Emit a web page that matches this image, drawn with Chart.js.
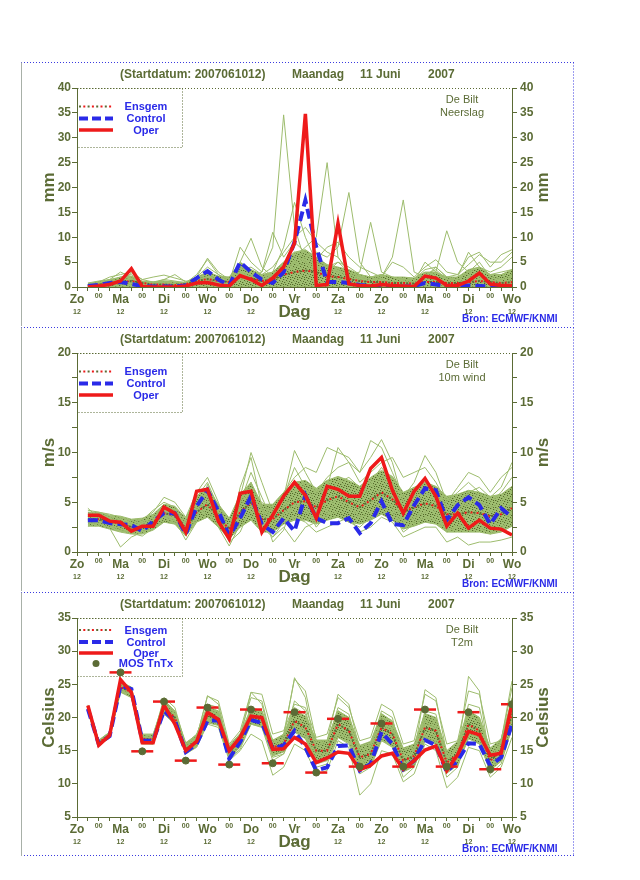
<!DOCTYPE html>
<html>
<head>
<meta charset="utf-8">
<script src="https://cdn.jsdelivr.net/npm/chart.js@4.4.1/dist/chart.umd.min.js"></script>
<style>
  body { margin: 0; background: #fff; width: 640px; height: 880px; position: relative; }
  canvas { position: absolute; left: 0; }
</style>
</head>
<body>
<canvas id="neerslag" width="640" height="265" style="top:61px"></canvas>
<canvas id="wind" width="640" height="265" style="top:326px"></canvas>
<canvas id="temp" width="640" height="265" style="top:591px"></canvas>
<script>
// forecast steps (hours after 2007061012)
const hours = [6,12,18,24,30,36,42,48,54,60,66,72,78,84,90,96,102,108,114,120,
               126,132,138,144,150,156,162,168,174,180,186,192,198,204,210,216,222,228,234,240];
const dayNames = ['Zo','Ma','Di','Wo','Do','Vr','Za','Zo','Ma','Di','Wo'];

// neerslag (mm)
const rrOper = [0.0,0.2,0.5,1.2,3.7,0.1,0.0,0.0,0.0,0.2,0.8,0.9,0.4,0.2,2.3,1.5,0.3,1.8,4.0,8.8,
                34.8,0.3,0.5,12.8,0.6,0.3,0.2,0.5,0.3,0.2,0.1,2.2,1.8,0.3,0.3,1.2,2.8,0.6,0.3,0.3];
const rrControl = [0.2,0.4,0.8,1.0,0.6,0.2,0.1,0.1,0.1,0.3,1.8,3.2,1.5,0.3,5.0,3.0,1.5,0.8,3.0,9.0,
                   17.4,8.0,1.0,1.0,0.8,0.4,0.2,0.1,0.1,0.1,0.2,0.8,0.5,0.2,0.2,0.3,0.2,0.1,0.1,0.1];
const rrEnsgem = [0.3,0.5,0.8,1.0,1.2,0.8,0.5,0.5,0.4,0.6,1.2,1.6,1.2,1.0,2.0,1.8,1.2,1.5,2.5,3.0,
                  3.3,3.0,2.2,2.0,1.6,1.2,1.0,1.0,0.8,0.8,0.7,1.0,1.0,0.8,0.8,1.0,1.2,1.0,0.8,1.0];
const rrLow = [0,0,0,0,0,0,0,0,0,0,0,0,0,0,0,0,0,0,0,0,
               0,0,0,0,0,0,0,0,0,0,0,0,0,0,0,0,0,0,0,0];
const rrHigh = [0.8,1.2,1.5,2.0,2.2,1.2,1.0,1.2,1.0,1.0,2.0,3.0,2.2,2.0,5.0,3.5,2.5,3.0,5.0,7.0,
                7.5,6.0,4.5,4.0,3.5,2.5,2.0,2.5,2.0,2.0,1.8,3.0,3.0,2.0,2.0,3.5,4.0,2.5,2.5,3.5];
const rrMembers = [
  [0.2,0.4,0.8,1.0,0.8,0.3,0.2,0.3,0.2,0.3,0.8,1.5,1.0,0.5,1.5,2.0,3.0,8.0,34.6,12.0,
   5.0,3.0,2.0,1.5,1.0,0.5,0.5,0.3,0.5,0.3,0.2,0.5,0.5,0.3,0.5,1.0,1.5,0.8,0.5,0.5],
  [0.3,0.5,1.2,2.0,2.5,1.0,0.8,1.0,0.5,0.5,1.2,2.0,1.0,0.8,3.0,2.0,1.5,2.5,4.0,6.0,
   8.0,10.0,25.0,6.0,3.0,2.0,1.5,1.0,1.0,0.5,0.5,1.0,1.5,0.5,0.5,1.0,1.5,1.0,1.0,1.5],
  [0.2,0.3,0.5,0.8,1.0,0.5,0.5,0.8,0.5,0.3,1.0,1.5,0.8,0.5,2.0,2.5,1.5,2.0,3.0,5.0,
   6.0,7.0,6.0,8.0,19.0,5.0,2.0,1.5,1.0,1.0,0.8,2.0,3.0,11.3,5.0,3.0,2.0,1.5,1.0,1.5],
  [0.5,1.0,2.0,2.5,3.0,1.5,1.0,1.5,1.2,0.8,2.0,4.0,2.5,1.5,4.0,3.0,2.0,3.0,5.0,7.0,
   5.0,4.0,3.0,5.0,3.0,2.0,1.5,2.0,6.0,17.5,3.0,2.0,4.0,2.0,1.5,3.0,5.0,2.0,1.5,2.0],
  [0.3,0.5,1.0,1.5,1.5,1.0,1.0,1.2,1.0,0.8,2.5,5.5,2.5,1.0,8.0,5.0,3.0,11.0,6.0,9.0,
   7.0,4.0,3.0,3.5,2.5,3.0,13.0,3.0,2.0,1.5,1.0,2.5,3.5,1.5,1.5,3.0,4.0,2.5,3.0,3.5],
  [0.2,0.3,0.8,1.5,2.0,0.8,0.6,0.8,0.6,0.5,1.5,2.5,1.5,0.8,3.0,2.5,1.8,3.0,8.0,17.0,
   10.0,5.0,4.0,5.0,4.0,2.5,2.0,2.5,2.0,1.5,1.5,3.5,4.0,2.0,2.5,6.0,7.0,4.0,6.5,7.5],
  [0.1,0.2,0.4,0.6,0.5,0.2,0.2,0.3,0.2,0.2,0.5,1.0,0.8,0.5,5.0,9.8,4.0,2.0,3.0,4.0,
   5.0,6.0,4.0,3.0,2.5,1.5,1.0,1.0,0.8,0.5,0.5,1.5,2.0,1.0,1.0,2.0,3.0,1.5,1.0,1.0],
  [0.4,0.8,1.5,3.0,2.0,1.0,0.8,1.5,2.5,1.0,2.0,5.8,3.0,1.5,3.5,4.0,2.5,4.0,7.0,10.0,
   12.0,9.0,7.0,6.0,3.0,2.0,1.5,1.5,1.0,1.0,1.0,5.0,3.0,1.5,2.0,7.0,4.0,3.0,4.0,6.0],
  [0.5,0.8,1.0,1.2,2.8,1.5,2.0,2.4,1.8,1.2,1.0,2.0,1.5,2.0,3.0,2.0,2.0,2.5,3.5,5.0,
   4.0,5.5,8.0,9.0,6.0,4.0,3.0,2.0,5.0,4.0,2.0,4.0,5.5,3.0,2.5,4.5,6.5,5.0,5.0,7.0]
];

// 10m wind (m/s)
const windOper = [3.7,3.7,3.1,3.0,2.1,2.6,2.6,4.5,3.9,2.0,6.1,6.3,3.1,1.3,5.9,6.1,2.0,3.7,5.6,7.0,
                  5.7,3.4,6.6,6.3,5.6,5.6,8.4,9.5,6.2,3.9,6.1,7.4,5.6,2.6,3.9,2.4,3.2,2.4,2.3,1.7];
const windControl = [3.2,3.2,2.9,2.8,2.7,2.1,3.1,3.9,3.9,1.8,4.6,6.2,4.1,1.6,3.4,5.6,2.8,2.0,3.4,2.1,
                     5.7,3.4,2.9,2.9,3.4,1.9,2.9,5.1,2.8,2.7,4.7,6.4,6.2,3.2,4.7,5.5,4.7,2.8,4.4,3.5];
const windEnsgem = [3.3,3.3,3.0,2.9,2.5,2.5,3.0,3.9,3.7,2.3,4.0,4.8,3.5,2.3,4.0,5.0,3.3,3.3,4.2,5.0,
                    5.1,4.5,5.2,5.6,5.0,4.5,5.2,6.0,5.3,4.0,4.5,4.9,4.6,3.8,3.8,4.0,3.9,3.6,3.8,4.4];
const windLow = [2.6,2.6,2.3,2.0,1.8,1.8,2.2,3.0,2.8,1.6,3.0,3.5,2.5,1.3,2.5,3.2,2.0,2.0,2.8,3.2,
                 3.2,2.8,3.2,3.5,3.0,2.8,3.2,3.8,3.2,2.3,2.6,3.0,2.8,2.0,2.0,2.0,2.0,1.8,2.0,2.6];
const windHigh = [4.0,4.0,3.7,3.6,3.3,3.4,3.8,4.8,4.6,3.4,5.6,6.5,4.8,3.4,5.8,7.0,4.8,4.8,6.0,7.0,
                  7.2,6.4,7.2,7.6,7.2,6.6,7.5,8.2,7.6,6.0,6.5,7.0,6.6,5.6,5.8,6.2,6.0,5.6,5.8,6.6];
const windMembers = [
  [3.5,3.6,3.2,3.0,2.6,2.8,3.5,4.5,4.2,2.8,5.0,6.0,4.0,2.5,5.5,10.0,7.0,4.0,5.5,10.2,
   8.0,6.0,7.5,8.5,9.0,8.0,9.5,11.3,9.0,5.0,6.0,7.0,6.5,4.5,5.0,6.0,6.5,5.5,6.5,9.0],
  [3.0,2.8,2.4,0.5,1.5,2.0,2.6,3.6,3.2,1.2,3.0,4.2,2.5,0.6,2.8,4.0,2.5,1.5,3.0,3.5,
   3.0,2.0,2.5,3.0,3.5,2.0,2.5,3.5,3.0,1.5,2.0,2.5,2.5,1.0,1.5,0.7,1.0,1.0,1.2,1.5],
  [3.8,3.9,3.5,3.4,3.2,3.3,4.0,5.5,5.0,3.5,6.0,7.5,5.0,2.0,4.5,6.0,5.0,4.0,6.0,7.5,
   8.5,8.0,10.5,10.0,9.5,8.0,11.2,10.5,8.0,5.5,7.0,9.7,8.0,5.0,6.0,7.0,6.0,5.0,6.0,7.5],
  [3.2,3.3,2.9,2.6,2.3,2.4,3.0,4.0,3.8,2.4,4.2,5.0,3.0,1.5,3.5,5.5,3.5,2.5,3.5,4.5,
   5.0,4.0,5.0,6.5,5.5,4.5,5.0,6.0,5.5,3.0,3.5,4.0,4.5,3.0,3.5,5.0,4.5,3.5,4.0,5.0],
  [4.2,4.0,3.8,3.5,3.0,3.2,4.2,5.0,4.5,3.0,5.5,7.0,4.5,1.8,5.0,8.0,5.5,3.0,4.5,6.0,
   7.0,6.0,6.5,10.5,9.0,7.0,8.0,9.0,9.5,7.5,8.0,8.5,7.0,5.0,6.5,8.0,7.5,6.0,7.5,8.5],
  [2.8,3.0,2.7,2.4,2.0,2.1,2.8,3.8,3.5,2.0,3.8,4.5,3.5,1.0,2.0,4.5,3.0,1.5,2.5,1.0,
   2.5,3.0,4.0,5.0,4.5,3.5,4.0,5.0,4.5,2.5,3.0,5.0,4.0,2.0,2.5,3.0,2.5,1.8,2.5,3.5],
  [3.6,3.5,3.3,3.2,2.8,3.0,3.4,4.3,4.1,2.6,4.6,5.8,3.8,2.2,4.8,7.0,4.2,3.5,5.5,8.5,
   6.5,5.0,6.0,7.0,7.5,6.5,7.0,8.5,7.0,4.0,5.0,6.5,6.0,3.5,4.0,5.5,5.0,4.5,5.0,6.0],
  [3.0,3.1,3.0,2.8,2.4,2.6,3.2,4.6,4.0,2.2,4.4,5.5,3.2,1.6,4.0,5.0,2.8,2.0,3.8,5.0,
   4.0,3.2,4.5,5.5,6.0,5.5,6.5,7.5,6.8,4.5,5.5,6.0,5.0,3.0,4.5,5.0,6.0,4.0,4.5,5.5],
  [4.4,3.4,2.6,2.2,1.9,1.6,2.4,3.2,3.0,1.8,3.4,6.8,4.2,1.2,6.5,9.5,4.5,1.0,2.2,5.5,
   4.5,2.5,3.8,4.0,3.0,2.5,3.5,4.5,4.0,2.0,2.8,3.5,3.2,2.2,2.5,4.0,3.5,2.5,3.0,4.0]
];

// T2m (Celsius)
const t2mOper = [21.8,15.8,17.3,25.7,23.8,16.2,16.2,21.9,19.0,15.0,16.4,20.8,19.7,15.0,17.0,20.2,20.0,15.2,15.3,17.0,
                 16.0,13.2,13.9,14.8,14.6,12.1,12.8,14.2,14.6,12.2,13.5,15.1,15.7,12.0,14.4,17.9,17.4,14.3,14.6,22.1];
const t2mControl = [21.3,16.0,17.2,24.8,24.3,16.5,16.5,21.0,19.5,14.8,16.0,19.5,19.6,13.8,16.3,19.6,19.2,15.3,15.8,18.0,
                    15.5,12.0,12.5,15.7,15.8,12.0,13.0,17.8,16.0,12.2,13.5,16.6,15.8,11.8,13.5,16.1,16.0,12.7,14.0,19.0];
const t2mEnsgem = [21.3,16.2,17.4,24.6,23.8,16.8,16.7,21.5,20.0,15.2,16.5,20.3,19.8,14.8,16.5,20.0,19.8,15.5,16.0,19.5,
                   18.5,15.0,15.0,19.0,18.0,14.0,14.5,18.5,17.5,13.5,14.2,18.5,18.0,13.2,14.5,19.0,18.0,13.5,15.0,20.5];
const t2mLow = [20.8,15.8,16.9,23.8,23.0,16.0,16.0,20.6,19.0,14.6,15.6,19.2,18.8,13.8,15.6,19.0,18.6,14.2,14.8,17.8,
                16.8,13.4,13.5,17.0,16.2,12.2,12.8,16.6,15.6,11.8,12.6,16.4,16.0,11.6,12.8,16.8,16.0,12.0,13.4,18.4];
const t2mHigh = [21.9,16.6,17.8,25.4,24.6,17.4,17.4,22.6,21.0,16.2,17.4,21.6,21.0,15.8,17.6,21.4,21.0,16.6,17.4,21.2,
                 20.2,16.6,16.6,21.0,20.0,15.8,16.4,20.6,19.4,15.4,16.0,20.6,20.0,15.0,16.4,21.0,20.0,15.4,16.8,22.8];
const t2mMembers = [
  [21.5,16.4,17.6,25.2,24.5,17.2,17.0,22.5,21.0,15.8,17.2,22.0,21.5,15.5,17.5,23.0,22.5,16.0,17.5,25.8,
   24.0,16.5,16.0,21.5,20.5,14.5,15.0,20.0,19.0,14.0,15.0,21.0,20.5,14.0,15.5,21.0,20.0,14.0,16.0,22.5],
  [21.0,15.8,17.0,24.0,23.0,16.2,16.0,20.5,19.0,14.5,15.5,19.0,18.5,13.5,15.0,17.5,16.5,11.3,12.5,16.0,
   15.0,11.5,12.0,16.5,15.5,8.3,10.0,15.0,14.5,10.3,11.5,16.0,15.0,9.4,11.0,15.5,15.0,11.0,12.5,17.0],
  [21.4,16.2,17.5,24.8,24.0,17.0,16.8,21.8,20.2,15.0,16.8,21.0,20.5,14.2,16.0,21.5,21.0,15.0,16.5,22.5,
   21.0,15.5,16.5,23.5,22.0,15.0,15.5,21.0,20.0,13.0,14.5,24.2,23.0,14.5,15.0,22.0,21.5,14.0,15.5,23.0],
  [21.2,16.0,17.2,24.5,23.5,16.5,16.5,21.2,19.8,14.8,16.2,20.0,19.5,14.5,16.5,19.5,19.5,14.5,15.0,19.0,
   18.0,13.5,14.0,20.5,19.5,13.0,14.0,19.5,18.5,12.5,14.0,20.0,19.5,12.0,14.5,26.2,24.0,13.0,15.0,21.5],
  [21.3,16.3,17.4,24.7,23.9,16.9,16.9,22.0,20.5,15.5,17.0,23.3,22.0,15.0,17.0,23.8,22.0,15.5,17.0,26.0,
   23.0,14.5,14.5,18.0,17.5,12.0,13.0,17.0,16.0,12.0,13.0,17.5,17.0,12.5,13.5,18.0,17.5,12.5,14.0,19.5],
  [21.1,16.1,17.3,24.3,23.6,16.6,16.6,21.0,19.5,15.0,16.0,19.5,19.0,14.0,15.5,19.5,19.0,14.0,14.5,18.0,
   17.0,13.0,13.5,17.5,17.0,13.5,14.0,19.0,18.0,13.5,14.5,19.5,19.0,13.5,15.5,20.5,19.5,14.5,16.5,25.5],
  [21.6,16.5,17.8,25.0,24.2,17.5,17.5,22.2,20.8,16.0,17.5,21.5,20.5,15.5,17.0,21.0,20.5,16.5,17.5,21.5,
   20.5,16.5,16.5,21.0,20.0,15.5,16.0,20.5,19.5,15.0,15.5,19.0,18.5,14.5,15.0,18.5,18.0,14.5,15.5,20.0],
  [21.0,15.9,17.1,24.2,23.3,16.4,16.3,21.0,19.2,14.6,15.8,19.8,19.2,13.8,15.2,19.0,18.5,13.5,14.5,18.5,
   17.5,12.5,13.0,17.0,16.0,11.5,12.5,16.5,15.5,11.0,12.5,17.0,16.5,11.0,12.5,17.5,17.0,11.5,13.0,18.5],
  [21.2,16.3,17.6,25.0,24.0,17.0,17.0,23.0,21.5,15.8,17.0,23.2,22.5,16.0,18.0,23.8,23.5,17.5,18.0,22.0,
   21.5,17.0,17.5,23.0,21.5,16.5,17.0,22.0,21.0,16.0,16.5,23.5,22.5,16.0,16.5,24.0,23.5,16.0,16.5,24.5]
];

// MOS Tn/Tx
const mosHours = [24,36,48,60,72,84,96,108,120,132,144,156,168,180,192,204,216,228,240];
const mosValues = [26.8,14.9,22.4,13.5,21.5,12.9,21.2,13.1,20.8,11.7,19.8,12.6,19.1,12.6,21.2,12.6,20.8,12.2,22.0];

const olive = '#5b6b35';
const blue = '#2a2ae8';
const red = '#ee1a1a';
const green = '#9dbc6d';
Chart.defaults.font.family = "'Liberation Sans', Arial, Helvetica, sans-serif";
Chart.defaults.color = olive;

function pts(arr) {
  return hours.map((t, i) => ({ x: t, y: arr[i] }));
}

// light green with scattered dark olive specks, like the dense member bundle
function speckle(ctx) {
  const c = document.createElement('canvas');
  c.width = 7; c.height = 7;
  const g = c.getContext('2d');
  g.fillStyle = '#a0bf72';
  g.fillRect(0, 0, 7, 7);
  g.fillStyle = '#8aab5c';
  [[1,0],[4,1],[0,3],[5,4],[2,5],[6,6]].forEach(p => g.fillRect(p[0], p[1], 1, 1));
  g.fillStyle = '#55682b';
  [[0,0],[3,1],[6,2],[2,3],[4,4],[1,5],[5,6],[3,6]].forEach(p => g.fillRect(p[0], p[1], 1, 1));
  return ctx.createPattern(c, 'repeat');
}

function yAxis(pos, min, max, width) {
  return {
    position: pos, min: min, max: max,
    ticks: { stepSize: 2.5, padding: pos === 'left' ? 1 : 3, color: olive,
             font: { size: 12, weight: 'bold' },
             callback: v => (v % 5 === 0 ? v : '') },
    grid: { drawOnChartArea: false, tickLength: 5, color: olive },
    border: { color: olive },
    afterFit: s => { s.width = width; }
  };
}

function extras(p) {
  return {
    id: 'extras',
    afterDraw(chart) {
      const g = chart.ctx, a = chart.chartArea, xs = chart.scales.x;
      g.save();
      // panel frame
      g.lineWidth = 1;
      g.strokeStyle = '#3a3ae0';
      g.setLineDash([1, 2]);
      g.beginPath();
      g.moveTo(21, 1.5); g.lineTo(574, 1.5);
      g.moveTo(573.5, 1.5); g.lineTo(573.5, 265);
      if (p.last) { g.moveTo(21, 264.5); g.lineTo(574, 264.5); }
      g.stroke();
      g.setLineDash([]);
      g.strokeStyle = '#a8b0a8';
      g.beginPath(); g.moveTo(21.5, 1.5); g.lineTo(21.5, 265); g.stroke();

      // dotted top of plot
      g.strokeStyle = olive;
      g.setLineDash([1, 2]);
      g.beginPath(); g.moveTo(a.left, a.top + 0.5); g.lineTo(a.right, a.top + 0.5); g.stroke();

      // legend box
      g.beginPath(); g.rect(a.left + 0.5, a.top + 0.5, 105, p.boxH); g.stroke();
      g.setLineDash([]);
      const rows = p.rows;
      for (let i = 0; i < 8; i++) {
        g.fillStyle = i % 2 ? red : olive;
        g.fillRect(79 + i * 4.3, rows[0] - 1, 2, 2);
      }
      g.lineWidth = 4; g.strokeStyle = blue; g.setLineDash([9, 4]);
      g.beginPath(); g.moveTo(79, rows[1]); g.lineTo(113, rows[1]); g.stroke();
      g.setLineDash([]);
      g.lineWidth = 3.5; g.strokeStyle = red;
      g.beginPath(); g.moveTo(79, rows[2]); g.lineTo(113, rows[2]); g.stroke();
      const names = ['Ensgem', 'Control', 'Oper'];
      if (p.mos) {
        g.fillStyle = olive;
        g.beginPath(); g.arc(96, rows[3], 3.5, 0, Math.PI * 2); g.fill();
        names.push('MOS TnTx');
      }
      g.fillStyle = blue;
      g.font = 'bold 11px "Liberation Sans", Arial, sans-serif';
      g.textAlign = 'center'; g.textBaseline = 'middle';
      names.forEach((n, i) => g.fillText(n, 146, rows[i] + 0.5));

      // title
      g.fillStyle = olive;
      g.font = 'bold 12px "Liberation Sans", Arial, sans-serif';
      g.textAlign = 'left';
      g.fillText('(Startdatum: 2007061012)', 120, 14);
      g.fillText('Maandag', 292, 14);
      g.fillText('11 Juni', 360, 14);
      g.fillText('2007', 428, 14);

      // station
      g.font = '11px "Liberation Sans", Arial, sans-serif';
      g.textAlign = 'center';
      g.fillText('De Bilt', 462, 39);
      g.fillText(p.station, 462, 52);

      // 12 UTC under the days, axis title
      g.font = 'bold 7px "Liberation Sans", Arial, sans-serif';
      dayNames.forEach((d, i) => g.fillText('12', xs.getPixelForValue(i * 24), 251.5));
      g.font = 'bold 17px "Liberation Sans", Arial, sans-serif';
      g.fillText('Dag', (a.left + a.right) / 2, 251);

      // y titles
      const cy = (a.top + a.bottom) / 2;
      [49.5, 543.5].forEach(x => {
        g.save();
        g.translate(x, cy); g.rotate(-Math.PI / 2);
        g.fillText(p.yTitle, 0, 0);
        g.restore();
      });

      // source
      g.fillStyle = blue;
      g.font = 'bold 10px "Liberation Sans", Arial, sans-serif';
      g.textAlign = 'left';
      g.fillText('Bron: ECMWF/KNMI', 462, 258.5);
      g.restore();
    }
  };
}

function makePanel(id, p) {
  const ctx = document.getElementById(id).getContext('2d');
  const sets = [
    { data: pts(p.oper), borderColor: red, borderWidth: 3.5, order: 1 },
    { data: pts(p.control), borderColor: blue, borderWidth: 4, borderDash: [10, 5], order: 2 },
    { data: pts(p.ensgem), borderColor: olive, borderWidth: 2, borderDash: [2, 4], order: 3 },
    { data: pts(p.ensgem), borderColor: red, borderWidth: 2, borderDash: [2, 4], borderDashOffset: 3, order: 3 }
  ];
  p.members.forEach(m => sets.push({ data: pts(m), borderColor: green, borderWidth: 1, order: 5 }));
  sets.push({ data: pts(p.low), borderColor: green, borderWidth: 1, order: 8 });
  sets.push({ data: pts(p.high), borderColor: green, borderWidth: 1, fill: '-1',
              backgroundColor: speckle(ctx), order: 8 });
  sets.forEach(s => { s.pointRadius = 0; s.tension = 0; if (!s.fill) s.fill = false; });
  if (p.mos) {
    const mos = mosHours.map((t, i) => ({ x: t, y: mosValues[i] }));
    sets.push({ data: mos, showLine: false, pointStyle: 'line', pointRadius: 11,
                borderColor: red, borderWidth: 2.5, order: 0 });
    sets.push({ data: mos, showLine: false, pointStyle: 'circle', pointRadius: 3.5,
                backgroundColor: olive, borderColor: olive, borderWidth: 1, order: -1 });
  }
  return new Chart(ctx, {
    type: 'line',
    data: { datasets: sets },
    options: {
      responsive: false,
      animation: false,
      devicePixelRatio: 1,
      layout: { padding: { top: 27, left: 0, right: 0, bottom: 0 } },
      plugins: { legend: { display: false }, tooltip: { enabled: false } },
      scales: {
        x: {
          type: 'linear', min: 0, max: 240,
          ticks: {
            stepSize: 6, autoSkip: false, maxRotation: 0, padding: 1, color: olive,
            callback: v => (v % 24 === 0 ? dayNames[v / 24] : (v % 12 === 0 ? '00' : '')),
            font: c => (c.tick && c.tick.value % 24 === 0) ? { size: 12, weight: 'bold' } : { size: 7, weight: 'bold' }
          },
          grid: { drawOnChartArea: false, tickLength: 4, color: olive },
          border: { color: olive },
          afterFit: s => { s.height = 39; }
        },
        y: yAxis('left', p.min, p.max, 77),
        y2: yAxis('right', p.min, p.max, 128)
      }
    },
    plugins: [extras(p)]
  });
}

makePanel('neerslag', { oper: rrOper, control: rrControl, ensgem: rrEnsgem, low: rrLow, high: rrHigh,
  members: rrMembers, min: 0, max: 40, yTitle: 'mm', station: 'Neerslag',
  rows: [45.5, 57.5, 69], boxH: 59 });
makePanel('wind', { oper: windOper, control: windControl, ensgem: windEnsgem, low: windLow, high: windHigh,
  members: windMembers, min: 0, max: 20, yTitle: 'm/s', station: '10m wind',
  rows: [45.5, 57.5, 69], boxH: 59 });
makePanel('temp', { oper: t2mOper, control: t2mControl, ensgem: t2mEnsgem, low: t2mLow, high: t2mHigh,
  members: t2mMembers, min: 5, max: 35, yTitle: 'Celsius', station: 'T2m',
  rows: [39, 51, 62, 72.5], boxH: 58, mos: true, last: true });
</script>
</body>
</html>
